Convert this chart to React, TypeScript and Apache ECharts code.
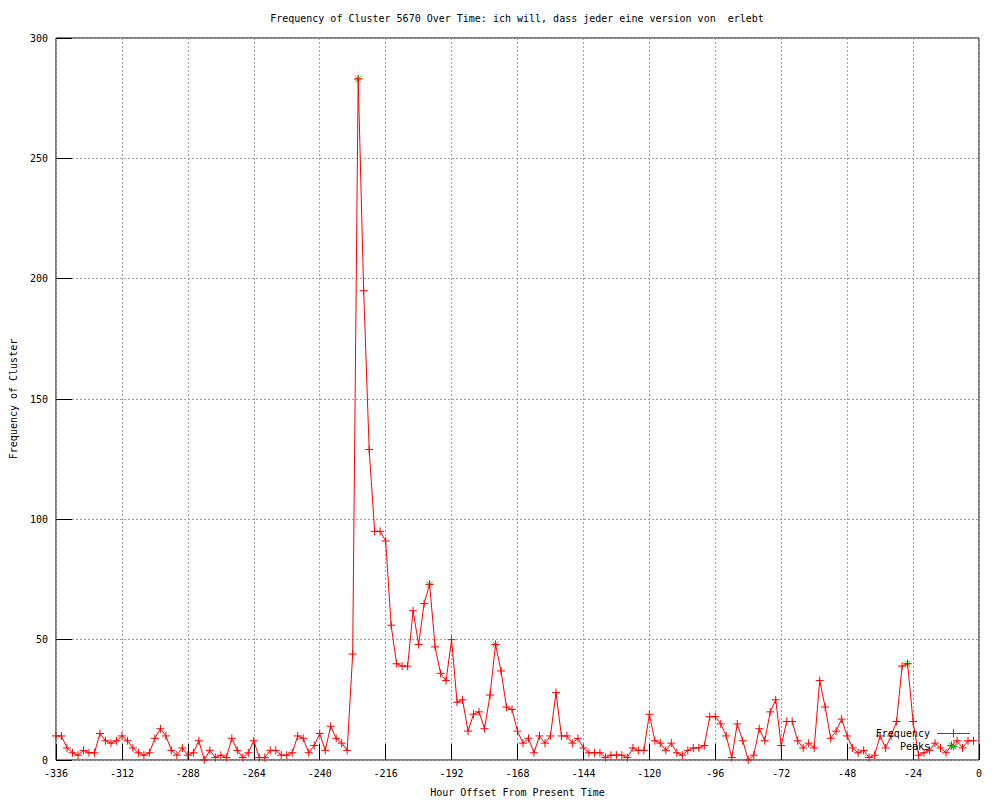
import React, { useEffect, useRef } from "react";
import * as echarts from "echarts";

const TITLE = "Frequency of Cluster 5670 Over Time: ich will, dass jeder eine version von  erlebt";
const X_NAME = "Hour Offset From Present Time";
const Y_NAME = "Frequency of Cluster";

const START_HOUR = -336;
const HOUR_STEP = 2;

// frequency per 2-hour step, from -336 to -2
const frequency = [
  10, 10, 5, 3, 2, 4, 3, 3, 11, 8, 7, 8,
  10, 8, 5, 3, 2, 3, 9, 13, 10, 4, 2, 5,
  2, 3, 8, 0, 4, 1, 2, 1, 9, 4, 1, 3,
  8, 1, 1, 4, 4, 2, 2, 3, 10, 9, 3, 6,
  11, 4, 14, 9, 7, 4, 44, 283, 195, 129, 95, 95,
  91, 56, 40, 39, 39, 62, 48, 65, 73, 47, 36, 33,
  50, 24, 25, 12, 19, 20, 13, 27, 48, 37, 22, 21,
  12, 7, 9, 3, 10, 7, 10, 28, 10, 10, 7, 9,
  5, 3, 3, 3, 1, 2, 2, 2, 1, 5, 4, 4,
  19, 8, 7, 4, 7, 3, 2, 4, 5, 5, 6, 18,
  18, 15, 10, 1, 15, 8, 0, 2, 13, 8, 20, 25,
  6, 16, 16, 8, 5, 7, 5, 33, 22, 9, 12, 17,
  10, 5, 3, 4, 1, 2, 10, 5, 10, 16, 39, 40,
  16, 2, 3, 4, 7, 5, 3, 6, 8, 5, 8, 8,
];
const hours = frequency.map((_, i) => START_HOUR + i * HOUR_STEP);

const peakHours = [-226, -200, -176, -26, -10];
const peakValues = [283, 73, 48, 40, 6];

const X_MIN = -336;
const X_MAX = 0;
const X_INTERVAL = 24;
const Y_MIN = 0;
const Y_MAX = 300;
const Y_INTERVAL = 50;

const FONT = '"DejaVu Sans Mono", "Liberation Mono", monospace';
const RED = "#ff0000";
const GREEN = "#00c000";

const PLUS = "path://M0,4L8,4M4,0L4,8";
const STAR = "path://M0,4L8,4M4,0L4,8M1,1L7,7M1,7L7,1";

export default function App() {
  const ref = useRef<HTMLDivElement>(null);
  useEffect(() => {
    document.body.style.margin = "0";
    const chart = echarts.init(ref.current!, null, { renderer: "svg" });
    const tickStyle = { color: "#000", width: 1 };
    const labelStyle = { fontFamily: FONT, fontSize: 10, color: "#000" };
    const grid = {
      show: true,
      left: 56,
      right: 21,
      top: 38,
      bottom: 40,
      outerBoundsMode: "none",
      containLabel: false,
      borderColor: "#000",
      borderWidth: 1,
      backgroundColor: "transparent",
    };
    const split = { show: true, lineStyle: { color: "#a0a0a0", width: 1, type: [2, 2] as any } };
    const lx = 937, rx = 970, mx = 953.5;
    const ly1 = 733.5, ly2 = 746.5;
    chart.setOption({
      animation: false,
      backgroundColor: "#fff",
      grid,
      xAxis: {
        type: "value",
        min: X_MIN,
        max: X_MAX,
        interval: X_INTERVAL,
        position: "bottom",
        name: X_NAME,
        nameLocation: "middle",
        nameGap: 27,
        nameTextStyle: labelStyle,
        axisLine: { show: false, onZero: false },
        axisTick: { show: true, inside: true, length: 16, lineStyle: tickStyle },
        axisLabel: { ...labelStyle, margin: 8 },
        splitLine: split,
      },
      yAxis: {
        type: "value",
        min: Y_MIN,
        max: Y_MAX,
        interval: Y_INTERVAL,
        position: "left",
        name: Y_NAME,
        nameLocation: "middle",
        nameGap: 38,
        nameRotate: 90,
        nameTextStyle: labelStyle,
        axisLine: { show: false, onZero: false },
        axisTick: { show: true, inside: true, length: 16, lineStyle: tickStyle },
        axisLabel: { ...labelStyle, margin: 8 },
        splitLine: split,
      },
      series: [
        {
          name: "Peaks",
          type: "scatter",
          data: peakHours.map((h, i) => [h, peakValues[i]]),
          symbol: STAR,
          symbolSize: 8,
          itemStyle: { color: GREEN, borderColor: GREEN, borderWidth: 1 },
          z: 2,
        },
        {
          name: "Frequency",
          type: "line",
          data: hours.map((h, i) => [h, frequency[i]]),
          symbol: PLUS,
          symbolSize: 8,
          showSymbol: true,
          lineStyle: { color: RED, width: 1 },
          itemStyle: { color: RED, borderColor: RED, borderWidth: 1 },
          z: 3,
        },
      ],
      graphic: [
        { type: "text", x: 517, y: 18, style: { text: TITLE, font: `10px ${FONT}`, fill: "#000", align: "center", verticalAlign: "middle" }, z: 10 },
        { type: "text", x: 930, y: ly1, style: { text: "Frequency", font: `10px ${FONT}`, fill: "#000", align: "right", verticalAlign: "middle" }, z: 10 },
        { type: "line", shape: { x1: lx, y1: ly1, x2: rx, y2: ly1 }, style: { stroke: RED, lineWidth: 1 }, z: 10 },
        { type: "line", shape: { x1: mx - 4, y1: ly1, x2: mx + 4, y2: ly1 }, style: { stroke: RED, lineWidth: 1 }, z: 10 },
        { type: "line", shape: { x1: mx, y1: ly1 - 4, x2: mx, y2: ly1 + 4 }, style: { stroke: RED, lineWidth: 1 }, z: 10 },
        { type: "text", x: 930, y: ly2, style: { text: "Peaks", font: `10px ${FONT}`, fill: "#000", align: "right", verticalAlign: "middle" }, z: 10 },
        { type: "line", shape: { x1: mx - 4, y1: ly2, x2: mx + 4, y2: ly2 }, style: { stroke: GREEN, lineWidth: 1 }, z: 10 },
        { type: "line", shape: { x1: mx, y1: ly2 - 4, x2: mx, y2: ly2 + 4 }, style: { stroke: GREEN, lineWidth: 1 }, z: 10 },
        { type: "line", shape: { x1: mx - 3, y1: ly2 - 3, x2: mx + 3, y2: ly2 + 3 }, style: { stroke: GREEN, lineWidth: 1 }, z: 10 },
        { type: "line", shape: { x1: mx - 3, y1: ly2 + 3, x2: mx + 3, y2: ly2 - 3 }, style: { stroke: GREEN, lineWidth: 1 }, z: 10 },
      ],
    });
    return () => chart.dispose();
  }, []);
  return <div ref={ref} style={{ width: 1000, height: 800 }} />;
}
